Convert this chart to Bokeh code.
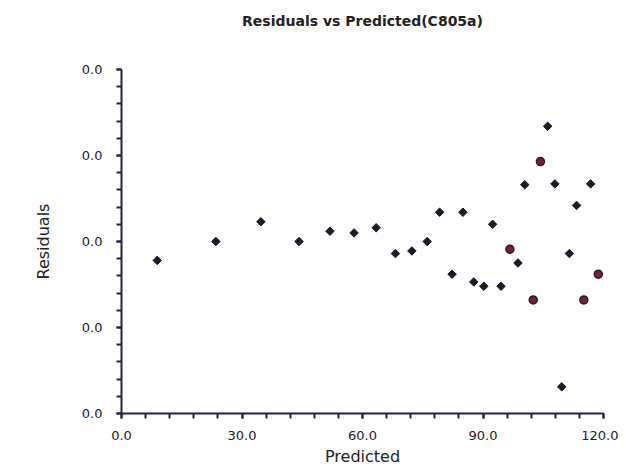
import math
from bokeh.plotting import figure
from bokeh.models import Range1d, FixedTicker
from bokeh.embed import file_html
from bokeh.resources import INLINE

# Data (residual scale arbitrary: all tick labels print as 0.0 in the original)
pred_normal = [8.9, 23.5, 34.7, 44.2, 51.9, 57.9, 63.4, 68.2, 72.3, 76.1, 79.2,
               85.0, 82.3, 87.7, 90.2, 92.4, 94.5, 98.7, 100.4, 106.1, 107.9,
               109.6, 111.5, 113.3, 116.8]
resid_normal = [-0.22, 0.0, 0.23, 0.0, 0.12, 0.10, 0.16, -0.14, -0.11, 0.0, 0.34,
                0.34, -0.38, -0.47, -0.52, 0.20, -0.52, -0.25, 0.66, 1.34, 0.67,
                -1.69, -0.14, 0.42, 0.67]
pred_flag = [96.7, 102.5, 104.3, 115.1, 118.7]
resid_flag = [-0.09, -0.68, 0.93, -0.68, -0.38]

x_ticks = [0, 30, 60, 90, 120]
x_tick_labels = ["0.0", "30.0", "60.0", "90.0", "120.0"]
y_ticks = [-2, -1, 0, 1, 2]
y_tick_labels = ["0.0", "0.0", "0.0", "0.0", "0.0"]

title_text = "Residuals vs Predicted(C805a)"
x_label = "Predicted"
y_label = "Residuals"

p = figure(width=618, height=460, output_backend="svg", toolbar_location=None,
           x_range=Range1d(x_ticks[0], x_ticks[-1]), y_range=Range1d(y_ticks[0], y_ticks[-1]),
           title=title_text + "\n\n", frame_width=482, frame_height=344,
           min_border_left=121, min_border_right=15, min_border_top=69,
           min_border_bottom=47)
p.outline_line_color = None
p.xgrid.visible = False
p.ygrid.visible = False
p.background_fill_color = "white"
p.border_fill_color = "white"

p.title.align = "center"
p.title.text_font = "DejaVu Sans"
p.title.text_font_size = "14px"
p.title.text_font_style = "bold"
p.title.text_color = "#222222"
p.title.standoff = 17

axis_color = "#23234a"
for ax, ticks, labels in ((p.xaxis[0], x_ticks, x_tick_labels), (p.yaxis[0], y_ticks, y_tick_labels)):
    step = ticks[1] - ticks[0]
    ax.ticker = FixedTicker(ticks=ticks, minor_ticks=[ticks[0] + i * step / 5 for i in range(5 * (len(ticks) - 1) + 1)])
    ax.major_label_overrides = {t: l for t, l in zip(ticks, labels)}
    ax.axis_line_color = axis_color
    ax.axis_line_width = 2
    ax.major_tick_line_color = axis_color
    ax.minor_tick_line_color = axis_color
    ax.major_tick_line_width = 2
    ax.minor_tick_line_width = 2
    ax.major_tick_out = 5
    ax.major_tick_in = 0
    ax.minor_tick_out = 5
    ax.minor_tick_in = 0
    ax.major_label_text_font = "DejaVu Sans"
    ax.major_label_text_font_size = "13px"
    ax.major_label_text_color = "#222222"
    ax.axis_label_text_font = "DejaVu Sans"
    ax.axis_label_text_font_size = "16px"
    ax.axis_label_text_font_style = "normal"
    ax.axis_label_text_color = "#222222"

p.xaxis.axis_label = x_label
p.yaxis.axis_label = y_label
p.xaxis.major_label_standoff = 12
p.yaxis.major_label_standoff = 14
p.xaxis.axis_label_standoff = 4
p.yaxis.axis_label_standoff = 26

p.scatter(pred_normal, resid_normal, marker="square", size=6, angle=math.pi / 4,
          fill_color="#1a1a28", line_color="#1a1a28")
p.scatter(pred_flag, resid_flag, marker="circle", size=8,
          fill_color="#7a1f2e", line_color="#2a1a2a", line_width=1.5)

open("out.html", "w").write(file_html(p, INLINE))
